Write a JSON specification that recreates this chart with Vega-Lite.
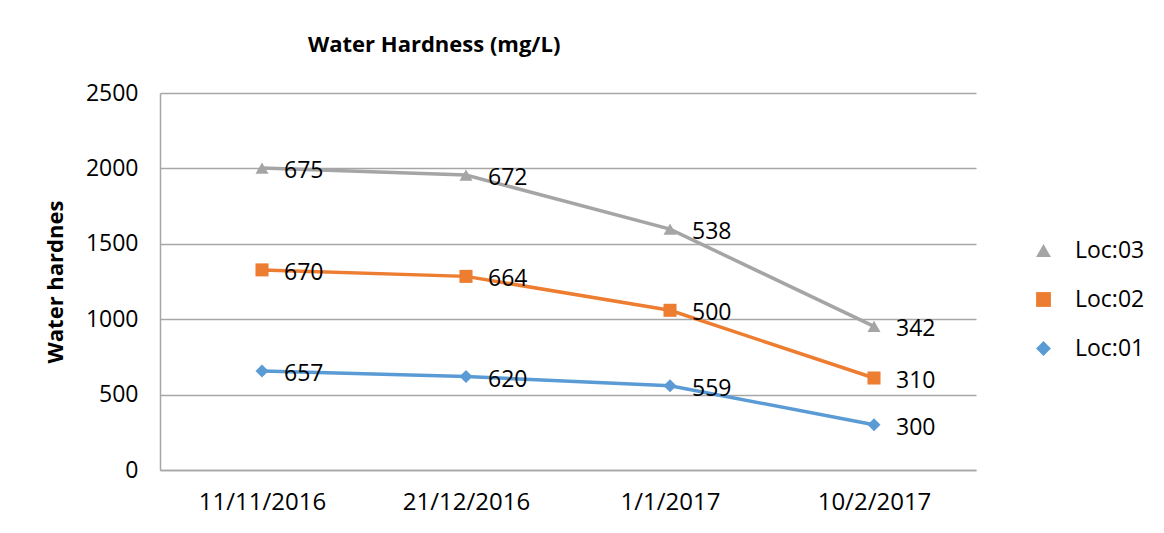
{
  "$schema": "https://vega.github.io/schema/vega-lite/v6.json",
  "autosize": "none",
  "width": 816,
  "height": 377,
  "padding": {"left": 160, "top": 93, "right": 188, "bottom": 63},
  "background": "white",
  "config": {
    "font": "Open Sans",
    "view": {"stroke": null},
    "axis": {"labelFont": "Open Sans", "titleFont": "Open Sans", "labelColor": "#000000", "titleColor": "#000000"}
  },
  "title": {
    "text": "Water Hardness (mg/L)",
    "anchor": "start",
    "frame": "group",
    "dx": 148,
    "offset": 25,
    "fontSize": 22,
    "fontWeight": "bold",
    "font": "Open Sans",
    "color": "#000000"
  },
  "data": {
    "values": [
      {"date": "11/11/2016", "loc": "Loc:01", "value": 657},
      {"date": "21/12/2016", "loc": "Loc:01", "value": 620},
      {"date": "1/1/2017", "loc": "Loc:01", "value": 559},
      {"date": "10/2/2017", "loc": "Loc:01", "value": 300},
      {"date": "11/11/2016", "loc": "Loc:02", "value": 670},
      {"date": "21/12/2016", "loc": "Loc:02", "value": 664},
      {"date": "1/1/2017", "loc": "Loc:02", "value": 500},
      {"date": "10/2/2017", "loc": "Loc:02", "value": 310},
      {"date": "11/11/2016", "loc": "Loc:03", "value": 675},
      {"date": "21/12/2016", "loc": "Loc:03", "value": 672},
      {"date": "1/1/2017", "loc": "Loc:03", "value": 538},
      {"date": "10/2/2017", "loc": "Loc:03", "value": 342}
    ]
  },
  "transform": [
    {"stack": "value", "groupby": ["date"], "sort": [{"field": "loc", "order": "ascending"}], "as": ["y0", "y1"]}
  ],
  "encoding": {
    "x": {
      "field": "date",
      "type": "nominal",
      "sort": ["11/11/2016", "21/12/2016", "1/1/2017", "10/2/2017"],
      "scale": {"type": "point", "padding": 0.5},
      "axis": {
        "title": null,
        "labelAngle": 0,
        "labelFontSize": 24,
        "labelPadding": 20,
        "ticks": false,
        "domainColor": "#a6a6a6",
        "domainWidth": 1.5,
        "grid": false
      }
    },
    "y": {
      "field": "y1",
      "type": "quantitative",
      "scale": {"domain": [0, 2500], "nice": false},
      "axis": {
        "title": "Water hardnes",
        "titleFontSize": 22,
        "titleFontWeight": "bold",
        "titlePadding": 18,
        "format": "d",
        "values": [0, 500, 1000, 1500, 2000, 2500],
        "labelFontSize": 23,
        "labelPadding": 22,
        "ticks": false,
        "domainColor": "#a6a6a6",
        "domainWidth": 1.5,
        "gridColor": "#a6a6a6",
        "gridWidth": 1.5
      }
    },
    "color": {
      "field": "loc",
      "type": "nominal",
      "scale": {"domain": ["Loc:03", "Loc:02", "Loc:01"], "range": ["#a5a5a5", "#ed7d31", "#5b9bd5"]},
      "legend": {
        "title": null,
        "orient": "none",
        "legendX": 872,
        "legendY": 146,
        "labelFontSize": 23,
        "labelFont": "Open Sans",
        "labelColor": "#000000",
        "symbolSize": 220,
        "symbolStrokeWidth": 0,
        "rowPadding": 25,
        "labelOffset": 20
      }
    }
  },
  "layer": [
    {
      "mark": {"type": "line", "strokeWidth": 3.5},
      "encoding": {"detail": {"field": "loc"}}
    },
    {
      "mark": {"type": "point", "filled": true, "opacity": 1, "size": 170},
      "encoding": {
        "shape": {
          "field": "loc",
          "type": "nominal",
          "scale": {"domain": ["Loc:03", "Loc:02", "Loc:01"], "range": ["triangle-up", "square", "diamond"]},
          "legend": null
        }
      }
    },
    {
      "mark": {"type": "text", "align": "left", "baseline": "middle", "dx": 22, "dy": 3, "fontSize": 23, "font": "Open Sans", "color": "#000000"},
      "encoding": {"text": {"field": "value", "type": "quantitative"}, "color": {"value": "#000000"}}
    }
  ]
}
